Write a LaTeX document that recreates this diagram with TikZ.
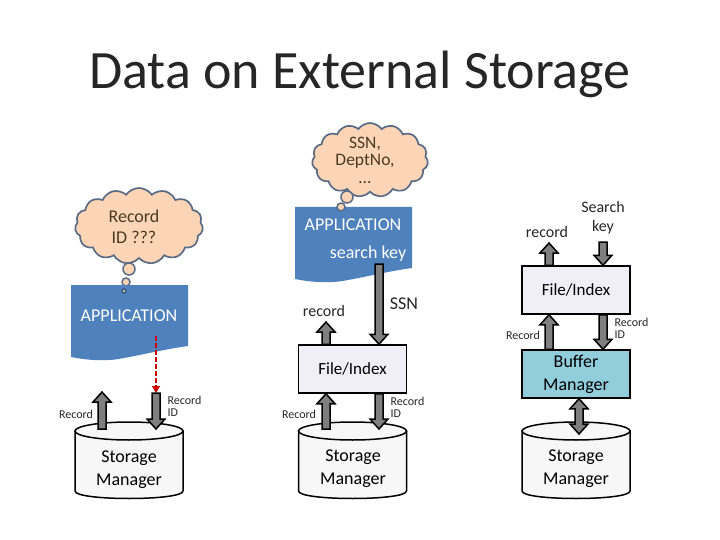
\documentclass[tikz,border=0pt]{standalone}
\usepackage{fontspec}
\setmainfont{Carlito}
\usetikzlibrary{shapes.geometric,shapes.symbols,arrows.meta,calc}
\definecolor{docblue}{HTML}{4F81BD}
\definecolor{cloudfill}{HTML}{FBD5B5}
\definecolor{cloudline}{HTML}{5B6B85}
\definecolor{cloudtext}{HTML}{4A3B22}
\definecolor{filefill}{HTML}{F0EEF6}
\definecolor{bufferfill}{HTML}{92CDDC}
\definecolor{arrowgray}{HTML}{7F7F7F}
\tikzset{
  boxnode/.style={draw=black,line width=1.5pt,minimum width=108pt,minimum height=48pt,inner sep=0pt,align=center,font=\fontsize{17}{23}\selectfont},
  filebox/.style={boxnode,fill=filefill},
  bufferbox/.style={boxnode,fill=bufferfill},
  dbline/.style={draw=black,line width=1.5pt,fill=white!97!black},
  dbtext/.style={align=center,font=\fontsize{18}{23}\selectfont},
  cloudnode/.style={shape=cloud,cloud puffs=15,cloud puff arc=110,draw=cloudline,line width=1.7pt,fill=cloudfill,inner sep=0pt},
  cloudlabel/.style={align=center,text=cloudtext},
  bubble/.style={shape=circle,draw=cloudline,line width=1.5pt,fill=cloudfill,inner sep=0pt},
  apptext/.style={text=white,font=\fontsize{18}{19}\selectfont},
  smalltext/.style={font=\fontsize{12}{12}\selectfont,align=left,text=black!85},
  midtext/.style={font=\fontsize{16}{19}\selectfont,align=center,text=black!85},
  blockshape/.style={draw=black,line width=1.5pt,fill=arrowgray,line join=miter},
  redarrow/.style={draw=red!80!black,line width=2.2pt,dashed,dash pattern=on 5pt off 2pt,-{Triangle[length=7pt,width=8pt]}}
}
% single block arrow at x = #1 from #2 to #3
\newcommand{\blockarrow}[3]{%
  \path (#1pt,0pt) ++(-4pt,0pt) coordinate (tmpA);
  \draw[blockshape] let \p1=(#2),\p2=(#3),\p3=(tmpA),\n1={(\y2>\y1)?1:-1} in
    (\x3,\y1) -- (\x3,\y2-\n1*10pt) -- (\x3-5pt,\y2-\n1*10pt) -- (\x3+4pt,\y2)
    -- (\x3+13pt,\y2-\n1*10pt) -- (\x3+8pt,\y2-\n1*10pt) -- (\x3+8pt,\y1) -- cycle;
}
\newcommand{\docshape}[2]{%
  \fill[docblue,shift={(#1,#2)}] (0,0) -- (117,0) -- (117,61)
    .. controls (95,64) and (75,69) .. (53,73)
    .. controls (35,77) and (15,75) .. (0,72) -- cycle;
}
% cylinder with centre x = #1
\newcommand{\dbshape}[1]{%
  \begin{scope}[shift={(#1,431)}]
    \draw[dbline] (-54,0) -- (-54,60) .. controls (-54,70) and (54,70) .. (54,60) -- (54,0) -- cycle;
    \draw[dbline] (0,0) ellipse[x radius=54,y radius=9];
  \end{scope}
}
\begin{document}
\begin{tikzpicture}[x=1pt,y=-1pt]
\useasboundingbox (0,0) rectangle (720,540);
\node[font=\fontsize{54}{60}\selectfont,text=black!85] (title) at (360,74) {Data on External Storage};

% ---- left column
\node[cloudnode,aspect=1.95,minimum width=128pt,minimum height=76pt,label={[cloudlabel,xshift=-5pt,yshift=-1pt,font=\fontsize{18}{21}\selectfont]center:Record\\ID ???}] (cl1) at (139,226) {};
\node[bubble,minimum size=12pt] (b1a) at (129,269) {};
\node[bubble,minimum size=8pt] (b1b) at (126,282) {};
\docshape{71}{285}
\node[bubble,minimum size=4pt,draw=docblue!70!black] (b1c) at (124,291) {};
\node[apptext] (app1) at (129,316) {APPLICATION};
\dbshape{129}
\node[dbtext] (dbt1) at (129,470) {Storage\\Manager};
\coordinate (rs1) at (156,336);
\coordinate (re1) at (156,393);
\coordinate (d1a) at (102,429);
\coordinate (d1b) at (102,392);
\coordinate (d1c) at (156,429);
\draw[redarrow] (rs1) -- (re1);
\blockarrow{102}{d1a}{d1b}
\blockarrow{156}{re1}{d1c}
\node[smalltext] (l1a) at (76,414) {Record};
\node[smalltext,anchor=west] (l1b) at (164,406) {Record\\ID};

% ---- middle column
\node[cloudnode,aspect=1.6,minimum width=116pt,minimum height=74pt,label={[cloudlabel,xshift=-5pt,font=\fontsize{17.5}{17.5}\selectfont]center:SSN,\\DeptNo,\\\dots}] (cl2) at (370,160) {};
\docshape{295}{207}
\node[bubble,minimum size=12pt] (b2a) at (347,197) {};
\node[bubble,minimum size=8pt] (b2b) at (341,207) {};
\node[apptext] (app2) at (353,225) {APPLICATION};
\node[apptext] (key2) at (368,254) {search key};
\node[filebox] (file2) at (352.5,369) {File/Index};
\dbshape{352.5}
\node[dbtext] (dbt2) at (353,469) {Storage\\Manager};
\coordinate (a2a) at (379,264);
\coordinate (a2b) at (326,322);
\coordinate (d2a) at (326,429);
\coordinate (d2b) at (379,429);
\blockarrow{379}{a2a}{file2.north}
\blockarrow{326}{file2.north}{a2b}
\blockarrow{326}{d2a}{file2.south}
\blockarrow{379}{file2.south}{d2b}
\node[midtext] (rec2) at (324,311) {record};
\node[midtext,font=\fontsize{18}{19}\selectfont] (ssn2) at (404,304) {SSN};
\node[smalltext] (l2a) at (299,414) {Record};
\node[smalltext,anchor=west] (l2b) at (387,407) {Record\\ID};

% ---- right column
\node[filebox] (file3) at (576,290) {File/Index};
\node[bufferbox,font=\fontsize{18}{23}\selectfont] (buf3) at (576,374) {Buffer\\Manager};
\dbshape{576}
\node[dbtext] (dbt3) at (576,469) {Storage\\Manager};
\coordinate (a3a) at (549,243);
\coordinate (a3b) at (603,242);
\coordinate (d3) at (579,434);
\blockarrow{549}{file3.north}{a3a}
\blockarrow{603}{a3b}{file3.north}
\blockarrow{549}{buf3.north}{file3.south}
\blockarrow{603}{file3.south}{buf3.north}
\draw[blockshape] let \p1=(buf3.south),\p2=(d3),\p3=(579pt,0pt) in
  (\x3,\y1) -- (\x3+9pt,\y1-10pt) -- (\x3+4pt,\y1-10pt) -- (\x3+4pt,\y2+10pt) -- (\x3+9pt,\y2+10pt)
  -- (\x3,\y2) -- (\x3-9pt,\y2+10pt) -- (\x3-4pt,\y2+10pt) -- (\x3-4pt,\y1-10pt) -- (\x3-9pt,\y1-10pt) -- cycle;
\node[midtext] (rec3) at (547,232) {record};
\node[midtext] (sk3) at (603,218) {Search\\key};
\node[smalltext] (l3a) at (523,335) {Record};
\node[smalltext,anchor=west] (l3b) at (611,328) {Record\\ID};
\end{tikzpicture}
\end{document}
